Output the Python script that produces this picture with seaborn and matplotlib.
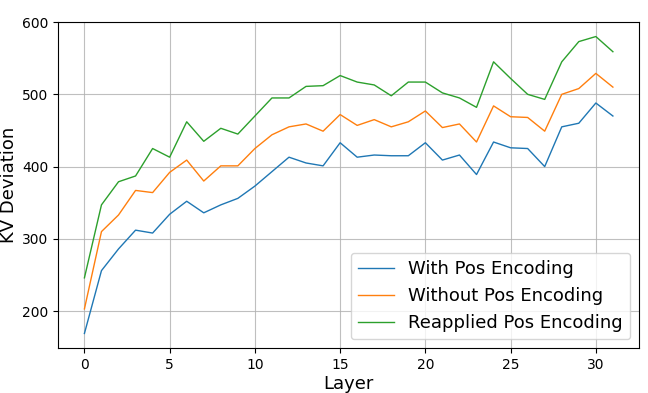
import matplotlib
matplotlib.use("Agg")
import matplotlib.pyplot as plt
import numpy as np
import pandas as pd
import seaborn as sns

# --- Data ---
LAYERS = list(range(32))

WITH_POS = [
    169, 256, 286, 312, 308, 334, 352, 336, 347, 356,
    373, 393, 413, 405, 401, 433, 413, 416, 415, 415,
    433, 409, 416, 389, 434, 426, 425, 400, 455, 460,
    488, 470,
]
WITHOUT_POS = [
    203, 310, 333, 367, 364, 392, 409, 380, 401, 401,
    425, 444, 455, 459, 449, 472, 457, 465, 455, 462,
    477, 454, 459, 434, 484, 469, 468, 449, 500, 508,
    529, 510,
]
REAPPLIED_POS = [
    246, 347, 379, 387, 425, 413, 462, 435, 453, 445,
    470, 495, 495, 511, 512, 526, 517, 513, 498, 517,
    517, 502, 495, 482, 545, 522, 500, 493, 545, 573,
    580, 559,
]

SERIES = {
    "With Pos Encoding": WITH_POS,
    "Without Pos Encoding": WITHOUT_POS,
    "Reapplied Pos Encoding": REAPPLIED_POS,
}

frames = [
    pd.DataFrame({"Layer": LAYERS, "KV Deviation": vals, "series": name})
    for name, vals in SERIES.items()
]
df = pd.concat(frames, ignore_index=True)

fig, ax = plt.subplots(figsize=(6.48, 3.93), dpi=100)
fig.subplots_adjust(left=0.0895, right=0.9866, top=0.9448, bottom=0.1137)

sns.lineplot(
    data=df, x="Layer", y="KV Deviation", hue="series",
    palette=sns.color_palette("tab10", 3), linewidth=1.0, ax=ax,
)

ax.grid(True, color="#b0b0b0", linewidth=0.8, alpha=0.8)
ax.set_xticks([0, 5, 10, 15, 20, 25, 30])
ax.set_yticks([200, 300, 400, 500, 600])
ax.tick_params(labelsize=10)
ax.set_xlabel("Layer", fontsize=13, labelpad=2)
ax.set_ylabel("KV Deviation", fontsize=13)
ax.yaxis.set_label_coords(-0.069, 0.5)
ax.legend(loc="lower right", fontsize=13, title=None)

fig.savefig("out.png", dpi=100)
plt.close(fig)
